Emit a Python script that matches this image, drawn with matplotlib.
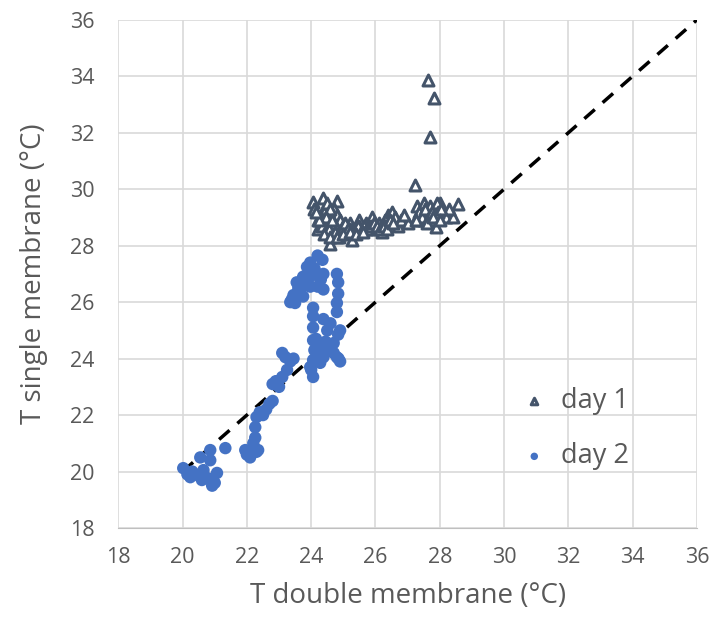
import matplotlib.pyplot as plt

# day 1 readings (open triangles)
day1_x = [24.06, 24.37, 24.8, 24.1, 24.3, 24.4, 24.5, 24.6, 24.7, 24.8, 24.2, 24.4,
          24.6, 24.8, 24.9, 25.0, 24.59, 24.7, 25.1, 25.2, 25.27, 25.4, 25.5, 25.6,
          25.7, 25.9, 26.0, 26.1, 26.2, 26.3, 26.4, 26.5, 26.6, 26.7, 26.8, 27.0,
          27.23, 27.3, 27.3, 27.4, 27.5, 27.6, 27.7, 27.8, 27.9, 28.0, 28.1, 28.2,
          27.64, 27.82, 27.7, 27.88, 28.57, 28.4, 27.4, 24.5, 24.9, 25.0, 25.3, 25.8,
          24.3, 24.6, 25.1, 25.5, 26.9, 27.5, 27.9, 28.3, 24.2, 24.5, 24.7, 25.2,
          24.35, 24.55, 24.75, 24.95, 25.05, 25.15, 25.35, 25.45, 25.65, 25.75,
          25.85, 25.95, 26.05, 26.15, 26.25, 26.35, 26.45, 27.35, 27.45, 27.55,
          27.65, 27.75, 27.85, 27.95, 28.05, 24.45, 24.65, 24.85, 24.25, 24.15,
          24.4, 24.6, 24.8, 25.0, 25.2, 25.4, 25.6, 26.55, 27.25, 27.6, 27.8, 28.0]
day1_y = [29.55, 29.7, 29.6, 29.3, 29.1, 29.2, 29.5, 29.0, 29.3, 29.1, 28.9, 28.8,
          28.7, 28.6, 28.9, 28.7, 28.05, 28.4, 28.5, 28.8, 28.2, 28.6, 28.9, 28.6,
          28.8, 29.0, 28.6, 28.8, 28.5, 28.9, 29.1, 29.2, 29.0, 28.7, 28.9, 28.8,
          30.15, 29.0, 29.4, 29.2, 29.5, 29.1, 29.4, 28.9, 29.3, 29.5, 29.2, 29.0,
          33.87, 33.24, 31.85, 28.67, 29.48, 29.0, 28.9, 28.5, 28.4, 28.5, 28.6, 28.7,
          29.0, 29.3, 28.6, 28.7, 29.1, 28.9, 29.5, 29.3, 28.6, 28.9, 28.8, 28.6,
          28.7, 28.6, 28.5, 28.6, 28.8, 28.6, 28.5, 28.7, 28.7, 28.6,
          28.7, 28.8, 28.7, 28.6, 28.7, 28.6, 28.9, 29.2, 29.0, 29.3,
          29.0, 29.2, 29.1, 29.2, 29.3, 29.0, 28.9, 28.3, 28.9, 29.2,
          28.4, 28.3, 28.3, 28.4, 28.5, 28.4, 28.5, 28.8, 28.9, 28.8, 29.0, 28.9]

# day 2 readings (filled circles)
day2_x = [20.02, 20.24, 20.55, 20.86, 20.92, 21.07, 20.65, 20.45, 20.77, 20.86,
          20.3, 20.6, 21.0, 20.15, 21.33, 21.95, 22.1, 22.35, 22.2, 22.0, 22.3,
          22.26, 22.26, 22.3, 22.4, 22.6, 22.7, 22.8, 22.5, 22.8, 22.9, 23.1, 23.25,
          23.2, 23.45, 23.1, 23.0, 23.35, 23.35, 23.45, 23.55, 23.75, 23.87, 23.97,
          24.2, 24.35, 23.65, 23.97, 24.2, 24.38, 24.2, 24.38, 23.97, 23.5, 23.75,
          23.6, 23.8, 24.1, 24.3, 23.4, 24.06, 24.06, 24.06, 24.8, 24.84, 24.84,
          24.8, 24.8, 24.9, 24.84, 24.38, 24.5, 24.6, 24.06, 24.2, 24.06, 24.06,
          23.97, 24.38, 24.6, 24.7, 24.8, 24.9, 24.38, 24.28, 24.5, 24.2, 24.1,
          24.3, 24.7, 24.0, 24.15, 24.45, 24.85]
day2_y = [20.12, 19.8, 20.5, 20.4, 19.5, 19.95, 20.05, 19.88, 19.77, 20.76,
          20.0, 19.7, 19.6, 19.9, 20.83, 20.76, 20.5, 20.76, 21.0, 20.6, 20.7,
          21.2, 21.57, 21.93, 22.1, 22.2, 22.4, 22.5, 22.0, 23.1, 23.2, 23.35, 23.6,
          24.05, 24.0, 24.2, 23.0, 23.9, 26.0, 26.25, 26.7, 26.9, 27.25, 27.4,
          27.65, 27.5, 26.4, 26.55, 27.0, 27.0, 26.55, 26.45, 26.9, 25.97, 26.2,
          26.5, 26.7, 27.2, 26.8, 26.1, 25.8, 25.5, 25.1, 27.0, 26.7, 26.3,
          25.97, 25.65, 25.0, 24.85, 25.4, 25.0, 25.25, 24.65, 24.4, 23.95, 23.35,
          23.7, 24.55, 24.4, 24.55, 24.05, 23.9, 24.05, 23.85, 24.3, 24.2, 24.3,
          24.1, 24.2, 23.6, 24.7, 24.6, 24.0]

ticks = list(range(18, 37, 2))
grey = '#595959'

plt.rcParams['font.family'] = ['Open Sans', 'DejaVu Sans']

fig = plt.figure(figsize=(7.17, 6.19), dpi=100)
ax = fig.add_axes([0.165, 0.147, 0.807, 0.821])

ax.plot([20, 36], [20, 36], color='black', linestyle=(0, (4, 3)), linewidth=2.5, zorder=2)
ax.scatter(day1_x, day1_y, marker='^', s=62, facecolors='white', edgecolors='#44546A',
           linewidths=2.2, zorder=3, label='day 1')
ax.scatter(day2_x, day2_y, marker='o', s=80, color='#4472C4', edgecolors='none',
           zorder=4, label='day 2')

ax.set_xlim(18, 36)
ax.set_ylim(18, 36)
ax.set_xticks(ticks)
ax.set_yticks(ticks)
ax.grid(True, color='#d9d9d9', linewidth=1.2, zorder=0)
ax.set_axisbelow(True)
for side in ['top', 'right', 'left']:
    ax.spines[side].set_visible(False)
ax.spines['bottom'].set_color('#bfbfbf')
ax.tick_params(length=0, labelsize=15.5, colors=grey)
ax.tick_params(axis='x', pad=14)
ax.tick_params(axis='y', pad=17)

ax.set_xlabel('T double membrane (°C)', fontsize=20, color=grey, labelpad=10)
ax.set_ylabel('T single membrane (°C)', fontsize=20, color=grey, labelpad=16)

leg = ax.legend(loc='center left', bbox_to_anchor=(0.63, 0.195), frameon=False,
                fontsize=19.5, labelcolor=grey, handletextpad=0.0, labelspacing=1.0,
                markerscale=0.6)

fig.savefig('out.png', dpi=100)
